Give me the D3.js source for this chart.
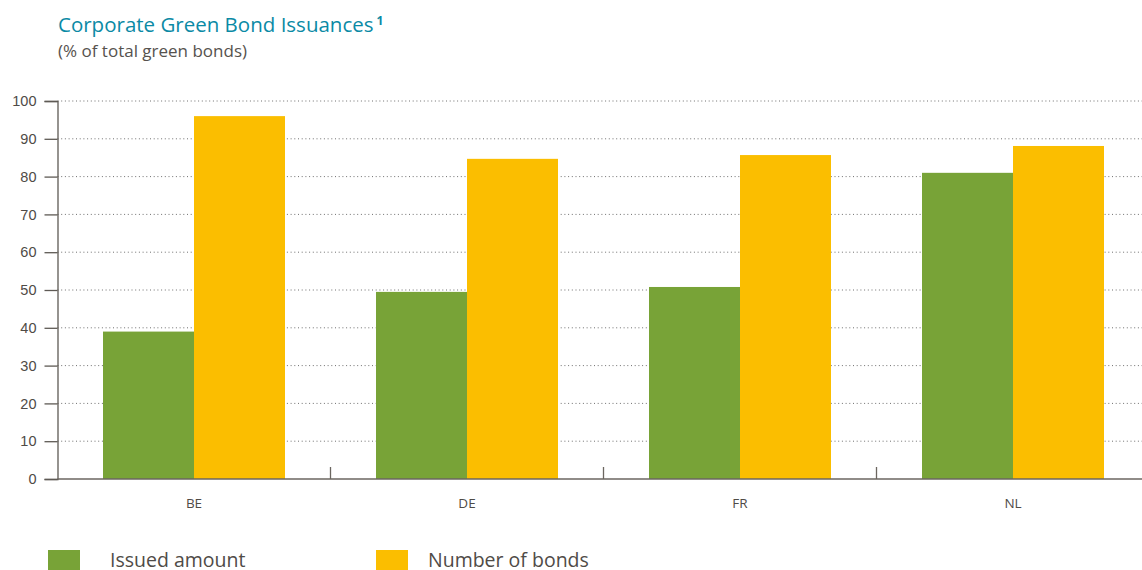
<!DOCTYPE html>
<html>
<head>
<meta charset="utf-8">
<script src="https://cdn.jsdelivr.net/npm/d3@7"></script>
<style>
  body { margin: 0; background: #fff; }
  svg { display: block; font-family: "Open Sans", "Noto Sans", sans-serif; }
</style>
</head>
<body>
<svg id="chart" width="1142" height="570"></svg>
<script>
const categories = ["BE", "DE", "FR", "NL"];
const seriesNames = ["Issued amount", "Number of bonds"];
const issuedAmount = [39, 49.5, 50.8, 81];
const numberOfBonds = [96, 84.7, 85.7, 88.1];
const yTicks = [0, 10, 20, 30, 40, 50, 60, 70, 80, 90, 100];
const colors = ["#78a337", "#fbbe00"];

const svg = d3.select("#chart");
const margin = { top: 101, left: 57.5, bottom: 91 };
const plotW = 273 * categories.length;
const plotH = 570 - margin.top - margin.bottom;
const g = svg.append("g").attr("transform", `translate(${margin.left},${margin.top})`);

const x = d3.scaleBand().domain(categories).range([0, plotW]).paddingInner(0).paddingOuter(0);
const inner = d3.scaleBand().domain(seriesNames).range([x.bandwidth() / 6, x.bandwidth() * 5 / 6]);
const y = d3.scaleLinear().domain([0, 100]).range([plotH, 0]);

// dotted grid
g.append("g").selectAll("line")
  .data(yTicks.filter(d => d > 0))
  .join("line")
  .attr("x1", 0).attr("x2", 1142)
  .attr("y1", d => y(d)).attr("y2", d => y(d))
  .attr("stroke", "#6f6f6f")
  .attr("stroke-width", 1)
  .attr("stroke-dasharray", "1,2.7");

// bars
const rows = categories.map((c, i) => ({ cat: c, vals: [issuedAmount[i], numberOfBonds[i]] }));
g.append("g").selectAll("g")
  .data(rows)
  .join("g")
  .attr("transform", d => `translate(${x(d.cat)},0)`)
  .selectAll("rect")
  .data(d => d.vals.map((v, j) => ({ key: seriesNames[j], v, j })))
  .join("rect")
  .attr("x", d => inner(d.key))
  .attr("width", inner.bandwidth())
  .attr("y", d => y(d.v))
  .attr("height", d => plotH - y(d.v))
  .attr("fill", d => colors[d.j]);

// y axis
const yAxis = g.append("g")
  .call(d3.axisLeft(y).tickValues(yTicks).tickSize(13).tickPadding(8));
yAxis.select(".domain").attr("stroke", "#5e5a55").attr("stroke-width", 1.3);
yAxis.selectAll(".tick line").attr("stroke", "#5e5a55").attr("stroke-width", 1.3);
yAxis.selectAll("text").attr("fill", "#4f4b47").attr("font-size", "14.5px");

// x axis
const xAxisG = g.append("g").attr("transform", `translate(0,${plotH})`);
xAxisG.append("line")
  .attr("x1", 0).attr("x2", 1142)
  .attr("stroke", "#6b6660").attr("stroke-width", 1.5);
xAxisG.selectAll(".sep")
  .data(categories.slice(1))
  .join("line")
  .attr("x1", d => x(d)).attr("x2", d => x(d))
  .attr("y1", 0).attr("y2", -12)
  .attr("stroke", "#6b6660").attr("stroke-width", 1.3);
xAxisG.selectAll(".lbl")
  .data(categories)
  .join("text")
  .attr("x", d => x(d) + x.bandwidth() / 2)
  .attr("y", 29)
  .attr("text-anchor", "middle")
  .attr("fill", "#4f4b47")
  .attr("font-size", "13.5px")
  .text(d => d);

// title
const title = svg.append("text")
  .attr("x", 58).attr("y", 32)
  .attr("fill", "#0b8aa5")
  .attr("font-size", "20.5px");
title.append("tspan").text("Corporate Green Bond Issuances");
title.append("tspan").attr("dx", 3).attr("dy", -7).attr("font-size", "12px").attr("font-weight", "bold").text("1");
svg.append("text")
  .attr("x", 58).attr("y", 57)
  .attr("fill", "#56524e")
  .attr("font-size", "17px")
  .text("(% of total green bonds)");

// legend
const legendX = [48, 376];
seriesNames.forEach((s, i) => {
  svg.append("rect")
    .attr("x", legendX[i]).attr("y", 550)
    .attr("width", 32).attr("height", 20)
    .attr("fill", colors[i]);
  svg.append("text")
    .attr("x", legendX[i] + 62 - (i ? 10 : 0)).attr("y", 567)
    .attr("fill", "#4f4b47")
    .attr("font-size", "19.5px")
    .text(s);
});
</script>
</body>
</html>
